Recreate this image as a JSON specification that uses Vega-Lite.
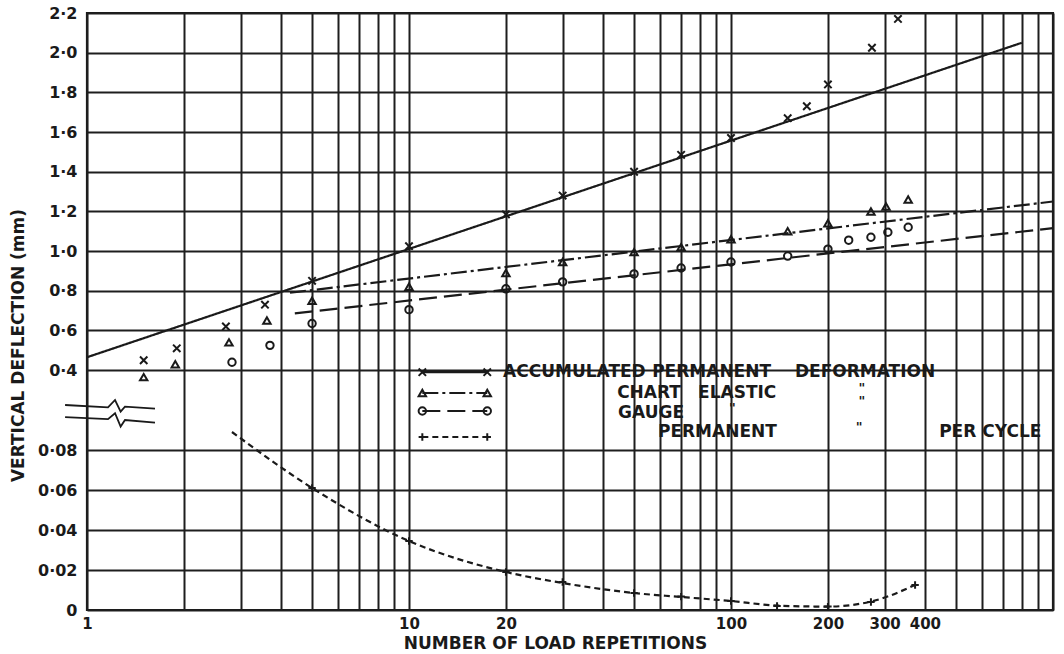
{
  "$schema": "https://vega.github.io/schema/vega-lite/v6.json",
  "width": 966,
  "height": 597,
  "autosize": "none",
  "padding": {"left": 87, "top": 13, "right": 11, "bottom": 44},
  "background": "white",
  "config": {"view": {"stroke": "#1a1a1a", "strokeWidth": 2.2}, "font": "DejaVu Sans"},
  "datasets": {
    "obs": [
      {"s": "acc", "n": 1.5, "d": 0.45}, {"s": "acc", "n": 1.9, "d": 0.51}, {"s": "acc", "n": 2.7, "d": 0.62},
      {"s": "acc", "n": 3.57, "d": 0.73}, {"s": "acc", "n": 5, "d": 0.85}, {"s": "acc", "n": 10, "d": 1.025},
      {"s": "acc", "n": 20, "d": 1.185}, {"s": "acc", "n": 30, "d": 1.28}, {"s": "acc", "n": 50, "d": 1.4},
      {"s": "acc", "n": 70, "d": 1.485}, {"s": "acc", "n": 100, "d": 1.57}, {"s": "acc", "n": 150, "d": 1.67},
      {"s": "acc", "n": 172, "d": 1.73}, {"s": "acc", "n": 200, "d": 1.84}, {"s": "acc", "n": 274, "d": 2.025},
      {"s": "acc", "n": 330, "d": 2.17},
      {"s": "ela", "n": 1.5, "d": 0.365}, {"s": "ela", "n": 1.88, "d": 0.43}, {"s": "ela", "n": 2.76, "d": 0.54},
      {"s": "ela", "n": 3.62, "d": 0.65}, {"s": "ela", "n": 5, "d": 0.75}, {"s": "ela", "n": 10, "d": 0.82},
      {"s": "ela", "n": 20, "d": 0.89}, {"s": "ela", "n": 30, "d": 0.945}, {"s": "ela", "n": 50, "d": 0.995},
      {"s": "ela", "n": 70, "d": 1.02}, {"s": "ela", "n": 100, "d": 1.06}, {"s": "ela", "n": 150, "d": 1.1},
      {"s": "ela", "n": 200, "d": 1.14}, {"s": "ela", "n": 272, "d": 1.2}, {"s": "ela", "n": 303, "d": 1.225},
      {"s": "ela", "n": 355, "d": 1.26},
      {"s": "gau", "n": 2.82, "d": 0.44}, {"s": "gau", "n": 3.7, "d": 0.525}, {"s": "gau", "n": 5, "d": 0.635},
      {"s": "gau", "n": 10, "d": 0.705}, {"s": "gau", "n": 20, "d": 0.81}, {"s": "gau", "n": 30, "d": 0.845},
      {"s": "gau", "n": 50, "d": 0.885}, {"s": "gau", "n": 70, "d": 0.915}, {"s": "gau", "n": 100, "d": 0.945},
      {"s": "gau", "n": 150, "d": 0.975}, {"s": "gau", "n": 200, "d": 1.01}, {"s": "gau", "n": 232, "d": 1.055},
      {"s": "gau", "n": 272, "d": 1.07}, {"s": "gau", "n": 307, "d": 1.095}, {"s": "gau", "n": 355, "d": 1.12},
      {"s": "per", "n": 5, "d": 0.061}, {"s": "per", "n": 10, "d": 0.0345}, {"s": "per", "n": 20, "d": 0.019},
      {"s": "per", "n": 30, "d": 0.014}, {"s": "per", "n": 50, "d": 0.0085}, {"s": "per", "n": 70, "d": 0.0067},
      {"s": "per", "n": 100, "d": 0.0045}, {"s": "per", "n": 139, "d": 0.002}, {"s": "per", "n": 200, "d": 0.0017},
      {"s": "per", "n": 272, "d": 0.004}, {"s": "per", "n": 373, "d": 0.0125}
    ],
    "lines": [
      {"s": "acc", "g": "fit", "n": 1, "d": 0.465}, {"s": "acc", "g": "fit", "n": 800, "d": 2.05},
      {"s": "ela", "g": "fit", "n": 4.27, "d": 0.79}, {"s": "ela", "g": "fit", "n": 1000, "d": 1.25},
      {"s": "gau", "g": "fit", "n": 4.42, "d": 0.686}, {"s": "gau", "g": "fit", "n": 1000, "d": 1.116},
      {"s": "per", "g": "fit", "n": 2.82, "d": 0.089}, {"s": "per", "g": "fit", "n": 5, "d": 0.061},
      {"s": "per", "g": "fit", "n": 10, "d": 0.0345}, {"s": "per", "g": "fit", "n": 20, "d": 0.019},
      {"s": "per", "g": "fit", "n": 30, "d": 0.0135}, {"s": "per", "g": "fit", "n": 50, "d": 0.0085},
      {"s": "per", "g": "fit", "n": 70, "d": 0.0065}, {"s": "per", "g": "fit", "n": 100, "d": 0.0045},
      {"s": "per", "g": "fit", "n": 139, "d": 0.0022}, {"s": "per", "g": "fit", "n": 200, "d": 0.0017},
      {"s": "per", "g": "fit", "n": 272, "d": 0.0042}, {"s": "per", "g": "fit", "n": 373, "d": 0.0125},
      {"s": "acc", "g": "key", "n": 11, "d": 0.39}, {"s": "acc", "g": "key", "n": 17.5, "d": 0.39},
      {"s": "ela", "g": "key", "n": 11, "d": 0.27}, {"s": "ela", "g": "key", "n": 17.5, "d": 0.27},
      {"s": "gau", "g": "key", "n": 11, "d": 0.0995}, {"s": "gau", "g": "key", "n": 17.5, "d": 0.0995},
      {"s": "per", "g": "key", "n": 11, "d": 0.0865}, {"s": "per", "g": "key", "n": 17.5, "d": 0.0865}
    ],
    "keypts": [
      {"s": "acc", "n": 11, "d": 0.39}, {"s": "acc", "n": 17.5, "d": 0.39},
      {"s": "ela", "n": 11, "d": 0.27}, {"s": "ela", "n": 17.5, "d": 0.27},
      {"s": "gau", "n": 11, "d": 0.0995}, {"s": "gau", "n": 17.5, "d": 0.0995},
      {"s": "per", "n": 11, "d": 0.0865}, {"s": "per", "n": 17.5, "d": 0.0865}
    ],
    "labels": [
      {"t": "ACCUMULATED", "n": 19.6, "d": 0.39}, {"t": "PERMANENT", "n": 56.9, "d": 0.39},
      {"t": "DEFORMATION", "n": 158, "d": 0.39},
      {"t": "CHART", "n": 44.3, "d": 0.27}, {"t": "ELASTIC", "n": 79, "d": 0.27},
      {"t": "GAUGE", "n": 44.6, "d": 0.0985},
      {"t": "PERMANENT", "n": 59.3, "d": 0.089}, {"t": "PER CYCLE", "n": 443, "d": 0.089}
    ],
    "ditto": [
      {"t": "\"", "n": 255, "d": 0.31}, {"t": "\"", "n": 101, "d": 0.12},
      {"t": "\"", "n": 255, "d": 0.19}, {"t": "\"", "n": 250, "d": 0.0915}
    ],
    "brk": [
      {"k": "a", "n": 0.855, "d": 0.15}, {"k": "a", "n": 1.162, "d": 0.127}, {"k": "a", "n": 1.222, "d": 0.2},
      {"k": "a", "n": 1.272, "d": 0.0992}, {"k": "a", "n": 1.312, "d": 0.133}, {"k": "a", "n": 1.626, "d": 0.113},
      {"k": "b", "n": 0.855, "d": 0.0964}, {"k": "b", "n": 1.162, "d": 0.0954}, {"k": "b", "n": 1.222, "d": 0.0984},
      {"k": "b", "n": 1.272, "d": 0.0917}, {"k": "b", "n": 1.312, "d": 0.095}, {"k": "b", "n": 1.626, "d": 0.0937}
    ]
  },
  "encoding": {
    "x": {
      "field": "n", "type": "quantitative",
      "scale": {"type": "log", "domain": [1, 1000], "range": [0, 966], "nice": false},
      "axis": {
        "values": [1, 2, 3, 4, 5, 6, 7, 8, 9, 10, 20, 30, 40, 50, 60, 70, 80, 90, 100, 200, 300, 400, 500, 600, 700, 800, 900, 1000],
        "labelExpr": "indexof([1,10,20,100,200,300,400], datum.value) >= 0 ? '' + datum.value : ''",
        "grid": true, "gridColor": "#1e1e1e", "gridWidth": 2, "gridOpacity": 1,
        "domain": false, "ticks": false, "labelPadding": 6, "labelFontSize": 15, "labelFontWeight": "bold",
        "labelColor": "#1a1a1a", "labelFlush": false, "labelOverlap": false,
        "title": "NUMBER OF LOAD REPETITIONS", "titleFontSize": 17, "titleFontWeight": "bold", "titleColor": "#1a1a1a",
        "titleX": 468, "titleY": 33, "titleBaseline": "middle", "titleAlign": "center"
      }
    },
    "y": {
      "field": "d", "type": "quantitative",
      "scale": {"domain": [0, 0.1, 0.3, 2.2], "range": [597, 397, 377, 0], "nice": false, "zero": false},
      "axis": {
        "values": [0, 0.02, 0.04, 0.06, 0.08, 0.4, 0.6, 0.8, 1, 1.2, 1.4, 1.6, 1.8, 2, 2.2],
        "labelExpr": "datum.value == 0 ? '0' : (datum.value < 0.1 ? replace(format(datum.value, '.2f'), '.', '·') : replace(format(datum.value, '.1f'), '.', '·'))",
        "grid": true, "gridColor": "#1e1e1e", "gridWidth": 2, "gridOpacity": 1,
        "domain": false, "ticks": false, "labelPadding": 10, "labelFontSize": 16, "labelFontWeight": "bold",
        "labelColor": "#1a1a1a", "labelOverlap": false, "labelFlush": false,
        "title": "VERTICAL DEFLECTION (mm)", "titleFontSize": 17, "titleFontWeight": "bold", "titleColor": "#1a1a1a",
        "titleX": -69, "titleY": 332, "titleBaseline": "middle", "titleAlign": "center", "titleAngle": -90
      }
    }
  },
  "layer": [
    {
      "data": {"values": [{}]},
      "mark": {"type": "rect", "fill": "white", "stroke": null},
      "encoding": {
        "x": {"datum": 10.4, "type": "quantitative"},
        "x2": {"datum": 990},
        "y": {"datum": 0.536, "type": "quantitative"},
        "y2": {"datum": 0.0815}
      }
    },
    {
      "data": {"name": "lines"},
      "mark": {"type": "line", "interpolate": "monotone", "color": "#1a1a1a", "strokeWidth": 2.2},
      "encoding": {
        "detail": [{"field": "s"}, {"field": "g"}],
        "strokeDash": {
          "field": "s", "type": "nominal", "legend": null,
          "scale": {"domain": ["acc", "ela", "gau", "per"], "range": [[1, 0], [16, 4, 3, 4], [18, 7], [6, 4]]}
        }
      }
    },
    {
      "data": {"name": "obs"},
      "mark": {"type": "point", "filled": false, "color": "#1a1a1a", "strokeWidth": 2, "opacity": 1},
      "encoding": {
        "shape": {
          "field": "s", "type": "nominal", "legend": null,
          "scale": {"domain": ["acc", "ela", "gau", "per"], "range": ["M-1,-1L1,1M-1,1L1,-1", "triangle-up", "circle", "M-1,0L1,0M0,-1L0,1"]}
        },
        "size": {
          "field": "s", "type": "nominal", "legend": null,
          "scale": {"domain": ["acc", "ela", "gau", "per"], "range": [55, 55, 50, 110]}
        }
      }
    },
    {
      "data": {"name": "keypts"},
      "mark": {"type": "point", "filled": false, "color": "#1a1a1a", "strokeWidth": 2, "opacity": 1},
      "encoding": {
        "shape": {"field": "s", "type": "nominal", "legend": null},
        "size": {"field": "s", "type": "nominal", "legend": null}
      }
    },
    {
      "data": {"name": "labels"},
      "mark": {"type": "text", "align": "left", "baseline": "middle", "fontSize": 17, "fontWeight": "bold", "color": "#1a1a1a"},
      "encoding": {"text": {"field": "t"}}
    },
    {
      "data": {"name": "ditto"},
      "mark": {"type": "text", "align": "center", "baseline": "middle", "fontSize": 13, "fontWeight": "bold", "color": "#1a1a1a"},
      "encoding": {"text": {"field": "t"}}
    },
    {
      "data": {"name": "brk"},
      "mark": {"type": "line", "color": "#1a1a1a", "strokeWidth": 1.8},
      "encoding": {"detail": {"field": "k"}}
    }
  ]
}
